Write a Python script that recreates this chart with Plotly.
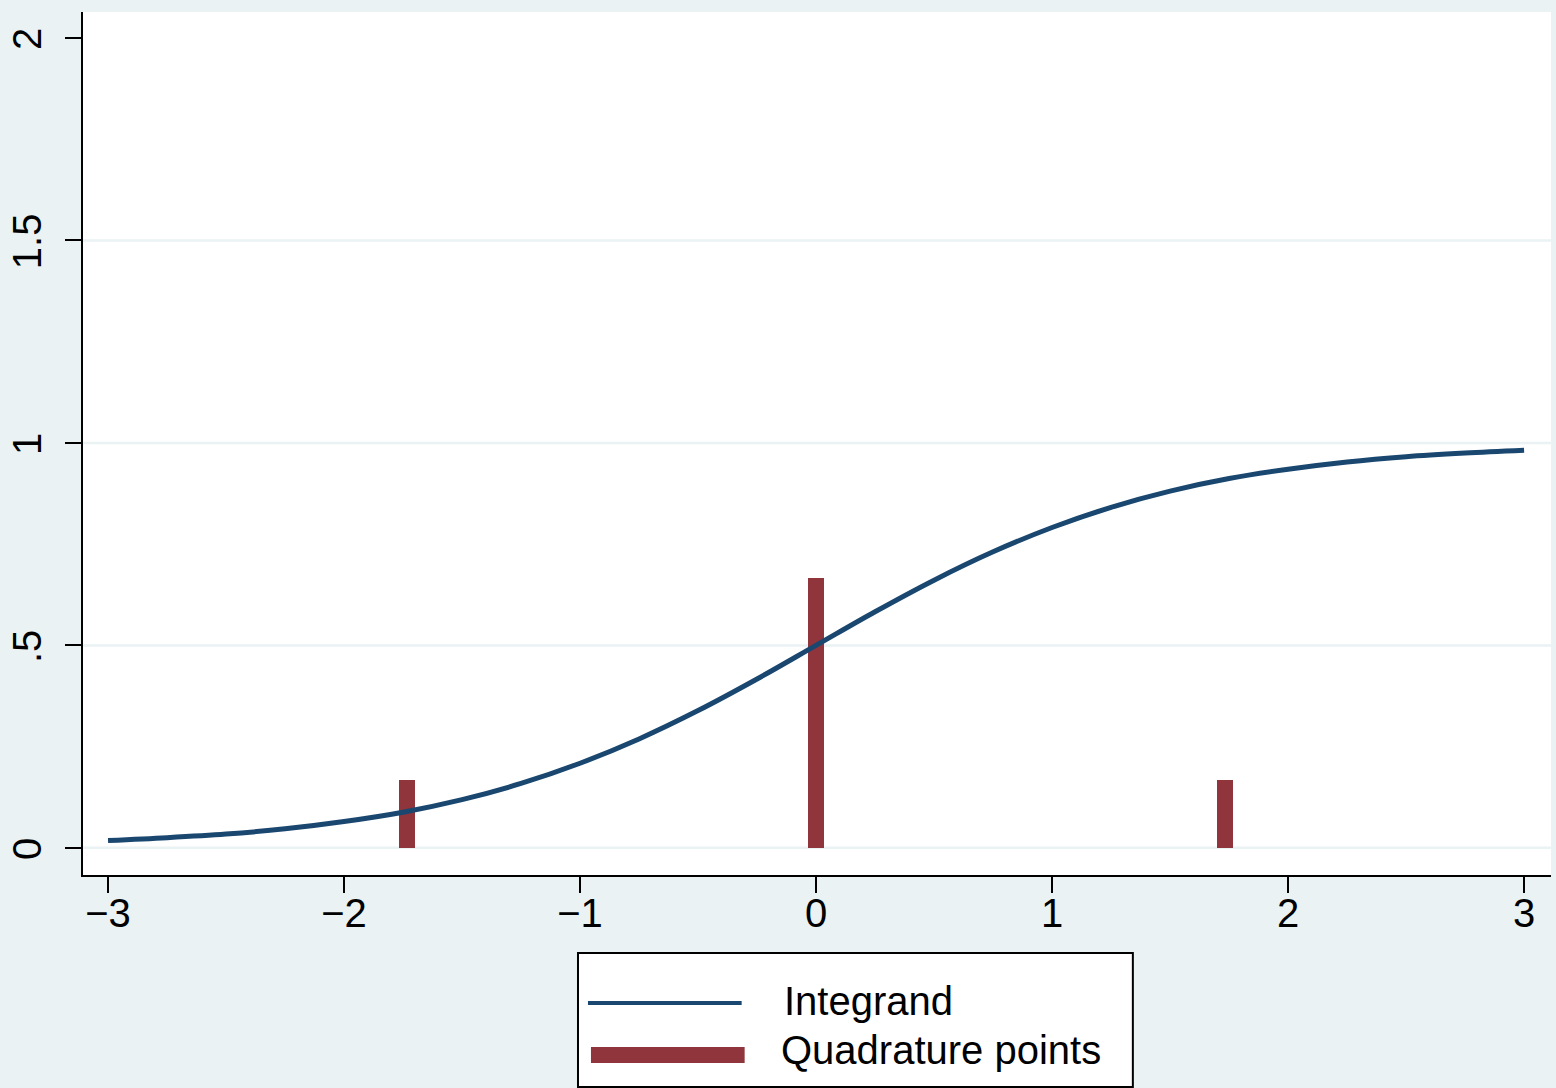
import plotly.graph_objects as go

# ---- data ----
curve_x = [-3.0, -2.75, -2.5, -2.25, -2.0, -1.75, -1.5, -1.25, -1.0, -0.75, -0.5, -0.25,
           0.0, 0.25, 0.5, 0.75, 1.0, 1.25, 1.5, 1.75, 2.0, 2.25, 2.5, 2.75, 3.0]
curve_y = [0.018, 0.025, 0.034, 0.047, 0.065, 0.088, 0.119, 0.159, 0.209, 0.269, 0.339, 0.417,
           0.5, 0.583, 0.661, 0.731, 0.791, 0.841, 0.881, 0.912, 0.935, 0.953, 0.966, 0.975, 0.982]
quad_x = [-1.732, 0.0, 1.732]
quad_w = [0.167, 0.667, 0.167]
x_ticks = [-3, -2, -1, 0, 1, 2, 3]
y_ticks = [0, 0.5, 1, 1.5, 2]
y_tick_labels = ["0", ".5", "1", "1.5", "2"]
series_names = ["Integrand", "Quadrature points"]

BLUE = "#1a476f"
RED = "#90353b"
BG = "#eaf2f3"
FONT = "Liberation Sans, Arial, sans-serif"

W, H = 1556, 1088
L, R, T, B = 80, 5, 12, 213

fig = go.Figure()
fig.add_trace(go.Bar(x=quad_x, y=quad_w, width=0.068, marker=dict(color=RED, line=dict(width=0)),
                     name=series_names[1], showlegend=False))
fig.add_trace(go.Scatter(x=curve_x, y=curve_y, mode="lines", line=dict(color=BLUE, width=5, shape="spline"),
                         name=series_names[0], showlegend=False))

# gridlines (Stata style, none at the top tick)
for yv in y_ticks[:-1]:
    fig.add_shape(type="line", xref="paper", yref="y", x0=0, x1=1, y0=yv, y1=yv,
                  line=dict(color=BG, width=2.5), layer="below")

pw = W - L - R
ph = H - T - B


def px_x(p):
    return (p - L) / pw


def px_y(p):
    return (H - B - p) / ph


# custom legend
fig.add_shape(type="rect", xref="paper", yref="paper",
              x0=px_x(576), x1=px_x(1132), y0=px_y(1087), y1=px_y(953),
              line=dict(color="black", width=2), fillcolor="white")
fig.add_shape(type="line", xref="paper", yref="paper",
              x0=px_x(586), x1=px_x(740), y0=px_y(1003), y1=px_y(1003),
              line=dict(color=BLUE, width=4))
fig.add_shape(type="line", xref="paper", yref="paper",
              x0=px_x(589), x1=px_x(743), y0=px_y(1055), y1=px_y(1055),
              line=dict(color=RED, width=16))
fig.add_annotation(xref="paper", yref="paper", x=px_x(780), y=px_y(1001), text=series_names[0],
                   showarrow=False, xanchor="left", yanchor="middle",
                   font=dict(family=FONT, size=40, color="black"))
fig.add_annotation(xref="paper", yref="paper", x=px_x(777), y=px_y(1050), text=series_names[1],
                   showarrow=False, xanchor="left", yanchor="middle",
                   font=dict(family=FONT, size=40, color="black"))

fig.update_layout(
    width=W, height=H,
    margin=dict(l=L, r=R, t=T, b=B, pad=0),
    paper_bgcolor=BG, plot_bgcolor="white",
    font=dict(family=FONT, size=40, color="black"),
    bargap=0,
    xaxis=dict(range=[-3.106, 3.114], tickvals=x_ticks, showgrid=False, zeroline=False,
               showline=True, linecolor="black", linewidth=2, ticks="outside", ticklen=16,
               tickwidth=2, tickcolor="black", tickfont=dict(size=40), ticklabelstandoff=-14),
    yaxis=dict(range=[-0.067, 2.064], tickvals=y_ticks, ticktext=y_tick_labels, showgrid=False,
               zeroline=False, showline=True, linecolor="black", linewidth=2, ticks="outside",
               ticklen=16, tickwidth=2, tickcolor="black", tickangle=-90, tickfont=dict(size=40),
               ticklabelstandoff=8, ticklabelshift=7),
)

fig.write_html(
    "out.html",
    config={"displayModeBar": False},
    post_script="document.body.style.margin='0';document.body.style.padding='0';"
                "document.body.style.background='#eaf2f3';document.body.style.overflow='hidden';",
)
